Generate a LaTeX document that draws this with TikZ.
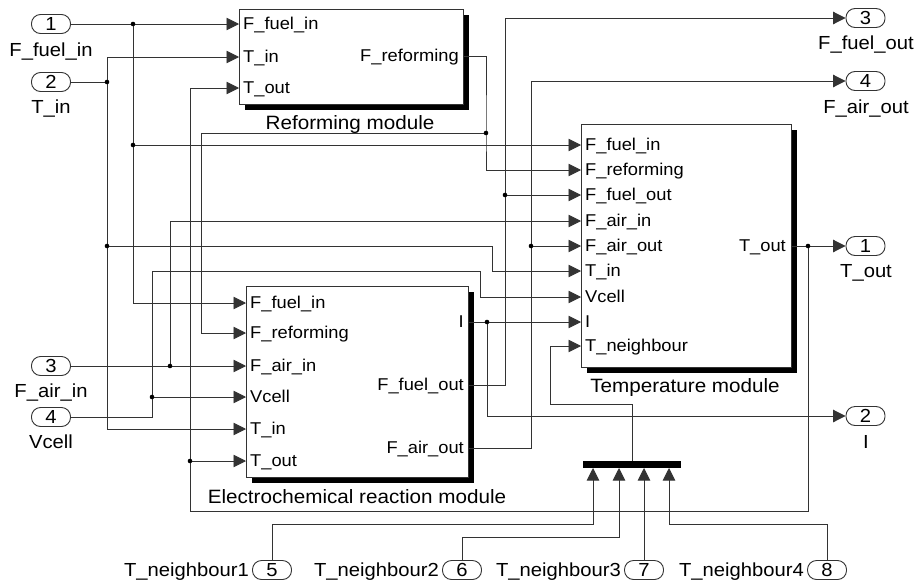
\documentclass[tikz,border=0pt]{standalone}
\usepackage{fontspec}
\setmainfont{Liberation Sans}[FakeStretch=1.07]
\usetikzlibrary{arrows.meta,shadows}
\newcommand\fin{\fontsize{17.1}{20}\selectfont}
\newcommand\fout{\fontsize{18.9}{22}\selectfont}
\newcommand\fblk{\fontsize{19.3}{23}\selectfont}
\begin{document}
\begin{tikzpicture}[x=1pt,y=-1pt,
  wire/.style={line width=0.9pt, draw=black!80},
  arr/.style={wire, -{Triangle[length=12.5pt,width=12.5pt]}},
  blk/.style={draw=black!80, line width=0.9pt, fill=white, inner sep=0pt, anchor=north west,
     drop shadow={shadow xshift=5.5pt, shadow yshift=-5.5pt, fill=black, opacity=1}},
  port/.style={draw=black!80, line width=0.9pt, rounded corners=9pt, minimum width=39pt,
     minimum height=19pt, inner sep=0pt, font=\fout, text height=12.9pt, text depth=0pt},
  plabL/.style={anchor=west, font=\fin, inner sep=0pt, text height=11.8pt, text depth=0pt},
  plabR/.style={anchor=east, font=\fin, inner sep=0pt, text height=11.8pt, text depth=0pt},
  olab/.style={font=\fout, inner sep=0pt, text height=12.9pt, text depth=0pt},
  blab/.style={font=\fblk, inner sep=0pt, text height=13.2pt, text depth=0pt}
]
\useasboundingbox[fill=white] (0,0) rectangle (915,581);

% ---------- blocks ----------
\node[blk, minimum width=224pt, minimum height=95pt] (ref) at (239,9) {};
\node[blk, minimum width=222pt, minimum height=191pt] (ele) at (246,286) {};
\node[blk, minimum width=210pt, minimum height=243pt] (tmp) at (581,124) {};
\node[fill=black, minimum width=98pt, minimum height=7pt, inner sep=0pt, anchor=north west] (mux) at (583,461) {};

\node[blab] (refname) at (350,123) {Reforming module};
\node[blab] (elename) at (357,497) {Electrochemical reaction module};
\node[blab] (tmpname) at (685,386) {Temperature module};

% port coordinates
\coordinate (refi1) at (239,24);
\coordinate (refi2) at (239,57);
\coordinate (refi3) at (239,88);
\coordinate (refo1) at (463,56);
\coordinate (elei1) at (246,303);
\coordinate (elei2) at (246,333);
\coordinate (elei3) at (246,366);
\coordinate (elei4) at (246,397);
\coordinate (elei5) at (246,429);
\coordinate (elei6) at (246,461);
\coordinate (eleo1) at (468,322);
\coordinate (eleo2) at (468,385);
\coordinate (eleo3) at (468,448);
\coordinate (tmpi1) at (581,145);
\coordinate (tmpi2) at (581,170);
\coordinate (tmpi3) at (581,195);
\coordinate (tmpi4) at (581,221);
\coordinate (tmpi5) at (581,246);
\coordinate (tmpi6) at (581,271);
\coordinate (tmpi7) at (581,297);
\coordinate (tmpi8) at (581,322);
\coordinate (tmpi9) at (581,346);
\coordinate (tmpo1) at (791,246);
\coordinate (muxo) at (632,461);
\coordinate (muxi1) at (593,468);
\coordinate (muxi2) at (619,468);
\coordinate (muxi3) at (644,468);
\coordinate (muxi4) at (669,468);

% port labels
\node[plabL] (rl1) at (243,24) {F\_fuel\_in};
\node[plabL] (rl2) at (243,57) {T\_in};
\node[plabL] (rl3) at (243,88) {T\_out};
\node[plabR] (rr1) at (459,56) {F\_reforming};

\node[plabL] (el1) at (250,303) {F\_fuel\_in};
\node[plabL] (el2) at (250,333) {F\_reforming};
\node[plabL] (el3) at (250,366) {F\_air\_in};
\node[plabL] (el4) at (250,397) {Vcell};
\node[plabL] (el5) at (250,429) {T\_in};
\node[plabL] (el6) at (250,461) {T\_out};
\node[plabR] (er1) at (464,322) {I};
\node[plabR] (er2) at (464,385) {F\_fuel\_out};
\node[plabR] (er3) at (464,448) {F\_air\_out};

\node[plabL] (tl1) at (585,145) {F\_fuel\_in};
\node[plabL] (tl2) at (585,170) {F\_reforming};
\node[plabL] (tl3) at (585,195) {F\_fuel\_out};
\node[plabL] (tl4) at (585,221) {F\_air\_in};
\node[plabL] (tl5) at (585,246) {F\_air\_out};
\node[plabL] (tl6) at (585,271) {T\_in};
\node[plabL] (tl7) at (585,297) {Vcell};
\node[plabL] (tl8) at (585,322) {I};
\node[plabL] (tl9) at (585,346) {T\_neighbour};
\node[plabR] (tr1) at (786,246) {T\_out};

% ---------- in/out ports ----------
\node[port] (in1) at (51,24) {1};
\node[olab] (in1l) at (51,50) {F\_fuel\_in};
\node[port] (in2) at (51,82) {2};
\node[olab] (in2l) at (51,107) {T\_in};
\node[port] (in3) at (51,366) {3};
\node[olab] (in3l) at (51,391) {F\_air\_in};
\node[port] (in4) at (51,417) {4};
\node[olab] (in4l) at (51,442) {Vcell};

\node[port] (in5) at (272,570) {5};
\node[olab, anchor=east] (in5l) at ([xshift=-3pt]in5.west) {T\_neighbour1};
\node[port] (in6) at (462,570) {6};
\node[olab, anchor=east] (in6l) at ([xshift=-3pt]in6.west) {T\_neighbour2};
\node[port] (in7) at (644,570) {7};
\node[olab, anchor=east] (in7l) at ([xshift=-3pt]in7.west) {T\_neighbour3};
\node[port] (in8) at (827,570) {8};
\node[olab, anchor=east] (in8l) at ([xshift=-3pt]in8.west) {T\_neighbour4};

\node[port] (out3) at (865.5,18) {3};
\node[olab] (out3l) at (866,43.5) {F\_fuel\_out};
\node[port] (out4) at (865.5,81) {4};
\node[olab] (out4l) at (866,107) {F\_air\_out};
\node[port] (out1) at (865.5,246) {1};
\node[olab] (out1l) at (866,271) {T\_out};
\node[port] (out2) at (865.5,416) {2};
\node[olab] (out2l) at (866,442.5) {I};

% ---------- junction / bend points ----------
\coordinate (j1) at (133,24);
\coordinate (j1b) at (133,145);
\coordinate (j2) at (107,82);
\coordinate (j2b) at (107,246);
\coordinate (j3) at (190,461);
\coordinate (jt) at (808,246);
\coordinate (j4) at (486,133);
\coordinate (j5) at (170,366);
\coordinate (j6) at (152,397);
\coordinate (j7) at (487,322);
\coordinate (j8) at (505,195);
\coordinate (j9) at (531,246);
\coordinate (k1) at (492,246);
\coordinate (k2) at (190,511);
\coordinate (k4) at (201,133);
\coordinate (k5) at (152,271);
\coordinate (k6) at (480,271);
\coordinate (k7) at (505,18);
\coordinate (k8) at (531,81);
\coordinate (k9) at (550,404);
\coordinate (k10) at (593,524);
\coordinate (k11) at (619,537);
\coordinate (k12) at (669,524);

% ---------- wires ----------
\draw[arr] (in1.east) -- (refi1);
\draw[arr] (j1) |- (elei1);
\draw[arr] (j1b) -- (tmpi1);

\draw[wire] (in2.east) -- (j2);
\draw[arr] (j2) |- (refi2);
\draw[arr] (j2) |- (elei5);
\draw[arr] (j2b) -- (k1) |- (tmpi6);

\draw[wire] (tmpo1) -- (jt);
\draw[arr] (jt) -- (out1.west);
\draw[wire] (jt) |- (k2);
\draw[arr] (k2) |- (refi3);
\draw[arr] (j3) -- (elei6);

\draw[arr] (refo1) -| (j4) |- (tmpi2);
\draw[arr] (j4) -- (k4) |- (elei2);

\draw[arr] (in3.east) -- (elei3);
\draw[arr] (j5) |- (tmpi4);

\draw[arr] (in4.east) -| (k5) -- (k6) |- (tmpi7);
\draw[arr] (j6) -- (elei4);

\draw[arr] (eleo1) -- (tmpi8);
\draw[arr] (j7) |- (out2.west);

\draw[arr] (eleo2) -| (k7) -- (out3.west);
\draw[arr] (j8) -- (tmpi3);

\draw[arr] (eleo3) -| (k8) -- (out4.west);
\draw[arr] (j9) -- (tmpi5);

\draw[arr] (muxo) |- (k9) |- (tmpi9);

\draw[arr] (in5.north) |- (k10) -- (muxi1);
\draw[arr] (in6.north) |- (k11) -- (muxi2);
\draw[arr] (in7.north) -- (muxi3);
\draw[arr] (in8.north) |- (k12) -- (muxi4);

% ---------- junction dots ----------
\foreach \p in {j1,j1b,j2,j2b,j3,jt,j4,j5,j6,j7,j8,j9}
  \fill (\p) circle (2.3pt);
\end{tikzpicture}
\end{document}
